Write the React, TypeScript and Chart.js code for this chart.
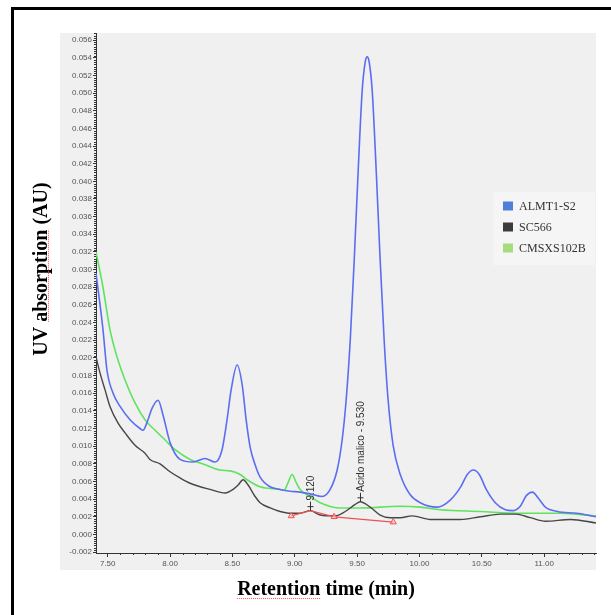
import { useEffect, useRef } from "react";
import { Chart, registerables } from "chart.js";

Chart.register(...registerables);

// ---------- data ----------
const seriesNames = ["ALMT1-S2", "SC566", "CMSXS102B"];
const lineColors = ["#5b6ef2", "#474747", "#5fe35f"];
const legendColors = ["#4f7fd6", "#3c3c3c", "#a7dc7e"];

const almtX = [7.406, 7.462, 7.494, 7.543, 7.599, 7.679, 7.759, 7.783, 7.823, 7.856, 7.904, 7.944, 8.0, 8.08, 8.185, 8.281, 8.361, 8.417, 8.457, 8.49, 8.538, 8.579, 8.61, 8.642, 8.682, 8.722, 8.803, 8.883, 8.963, 9.043, 9.124, 9.22, 9.284, 9.34, 9.38, 9.412, 9.445, 9.477, 9.509, 9.541, 9.565, 9.581, 9.597, 9.621, 9.653, 9.685, 9.717, 9.749, 9.789, 9.846, 9.926, 10.006, 10.143, 10.247, 10.327, 10.384, 10.432, 10.48, 10.536, 10.608, 10.689, 10.745, 10.809, 10.857, 10.906, 10.954, 11.01, 11.107, 11.26, 11.416];
const almtY = [0.0296, 0.0232, 0.0186, 0.016, 0.0145, 0.013, 0.012, 0.0118, 0.013, 0.0143, 0.0152, 0.0135, 0.0104, 0.0085, 0.0082, 0.0086, 0.0082, 0.0096, 0.013, 0.0164, 0.0192, 0.0169, 0.013, 0.0099, 0.0079, 0.0065, 0.0054, 0.0051, 0.0049, 0.0048, 0.0046, 0.0043, 0.0051, 0.0073, 0.0107, 0.0152, 0.022, 0.0311, 0.0413, 0.0503, 0.0535, 0.0541, 0.0535, 0.0503, 0.0413, 0.0311, 0.022, 0.0152, 0.0101, 0.0068, 0.0045, 0.0036, 0.0031, 0.0039, 0.0053, 0.0068, 0.0073, 0.0068, 0.0051, 0.0036, 0.0028, 0.0027, 0.0032, 0.0044, 0.0048, 0.0041, 0.0031, 0.0026, 0.0024, 0.002];

const scX = [7.406, 7.438, 7.478, 7.518, 7.583, 7.639, 7.719, 7.799, 7.839, 7.92, 8.0, 8.08, 8.161, 8.321, 8.442, 8.506, 8.546, 8.586, 8.626, 8.682, 8.722, 8.803, 8.883, 8.963, 9.043, 9.124, 9.204, 9.324, 9.405, 9.485, 9.525, 9.605, 9.685, 9.766, 9.846, 9.942, 10.087, 10.327, 10.488, 10.649, 10.773, 10.89, 11.01, 11.212, 11.416];
const scY = [0.0201, 0.0183, 0.0164, 0.0145, 0.0126, 0.0115, 0.0101, 0.0092, 0.0085, 0.008, 0.0071, 0.0064, 0.0058, 0.0051, 0.0047, 0.0051, 0.0056, 0.0062, 0.0056, 0.0043, 0.0036, 0.003, 0.0026, 0.0024, 0.0024, 0.0027, 0.0022, 0.0021, 0.0026, 0.0034, 0.0037, 0.0031, 0.0022, 0.0019, 0.0019, 0.0021, 0.0017, 0.0017, 0.002, 0.0023, 0.0023, 0.0019, 0.0015, 0.0017, 0.0013];

const cmsX = [7.406, 7.462, 7.518, 7.575, 7.639, 7.719, 7.799, 7.88, 7.96, 8.04, 8.161, 8.281, 8.401, 8.482, 8.562, 8.618, 8.722, 8.883, 8.915, 8.947, 8.979, 9.011, 9.043, 9.124, 9.204, 9.364, 9.525, 9.846, 10.006, 10.167, 10.488, 10.809, 11.13, 11.416];
const cmsY = [0.032, 0.028, 0.0232, 0.0201, 0.0175, 0.0149, 0.013, 0.0118, 0.0107, 0.0096, 0.0085, 0.0079, 0.0073, 0.0072, 0.0068, 0.0062, 0.0054, 0.0051, 0.005, 0.0059, 0.0068, 0.0059, 0.0051, 0.0043, 0.0036, 0.003, 0.003, 0.0032, 0.0031, 0.0028, 0.0026, 0.0024, 0.0024, 0.0021];

const baseX = [8.972, 9.124, 9.316, 9.79];
const baseY = [0.0021, 0.0027, 0.002, 0.0014];
const markX = [8.972, 9.316, 9.79];
const markY = [0.0021, 0.002, 0.0014];

const peakLabels = ["9.120", "Acido malico - 9.530"];
const peakTimes = [9.124, 9.525];
const peakHeights = [0.0027, 0.0037];

const xMin = 7.406, xMax = 11.416, xStep = 0.5, xMinor = 0.1;
const yMin = -0.0021, yMax = 0.0568, yStep = 0.002, yMinor = 0.00025;

const xTitle = "Retention time (min)";
const yTitleParts = ["UV ", "absorption", " (AU)"];

const zip = (xs: number[], ys: number[]) => xs.map((x, i) => ({ x, y: ys[i] }));

const decorPlugin = {
  id: "decor",
  beforeDraw(chart: any) {
    const ctx = chart.ctx;
    ctx.save();
    ctx.fillStyle = "#f0f0f0";
    ctx.fillRect(60, 33, chart.chartArea.right - 60, 570 - 33);
    ctx.fillStyle = "#000";
    ctx.fillRect(11, 7, 611 - 11, 3);
    ctx.fillRect(11, 7, 3, 615 - 7);
    ctx.restore();
  },
  afterDraw(chart: any) {
    const ctx = chart.ctx;
    const xs = chart.scales.x, ys = chart.scales.y;
    const area = chart.chartArea;
    ctx.save();
    // minor ticks
    ctx.strokeStyle = "#333";
    ctx.lineWidth = 1;
    ctx.beginPath();
    for (let k = Math.ceil(xMin / xMinor); k <= Math.floor(xMax / xMinor); k++) {
      if (k % Math.round(xStep / xMinor) === 0) continue;
      const px = Math.round(xs.getPixelForValue(k * xMinor)) + 0.5;
      ctx.moveTo(px, area.bottom);
      ctx.lineTo(px, area.bottom + 2);
    }
    for (let k = Math.ceil(yMin / yMinor); k <= Math.floor(yMax / yMinor); k++) {
      if (k % Math.round(yStep / yMinor) === 0) continue;
      const py = Math.round(ys.getPixelForValue(k * yMinor)) + 0.5;
      ctx.moveTo(area.left - 2, py);
      ctx.lineTo(area.left, py);
    }
    ctx.stroke();

    // peak annotations
    ctx.strokeStyle = "#333";
    ctx.fillStyle = "#333";
    ctx.font = "10px 'Liberation Sans', Arial, sans-serif";
    peakLabels.forEach((lab, i) => {
      const px = Math.round(xs.getPixelForValue(peakTimes[i])) + 0.5;
      const py = ys.getPixelForValue(peakHeights[i]);
      ctx.beginPath();
      ctx.moveTo(px, py);
      ctx.lineTo(px, py - 9);
      ctx.moveTo(px - 3, py - 4);
      ctx.lineTo(px + 3, py - 4);
      ctx.stroke();
      ctx.save();
      ctx.translate(px + 1, py - 10);
      ctx.rotate(-Math.PI / 2);
      ctx.textAlign = "left";
      ctx.textBaseline = "middle";
      ctx.fillText(lab, 0, 0);
      ctx.restore();
    });

    // legend
    ctx.fillStyle = "#f5f5f5";
    ctx.fillRect(493, 192, 102, 73);
    ctx.font = "12px 'Liberation Serif', 'Times New Roman', serif";
    ctx.textBaseline = "middle";
    ctx.textAlign = "left";
    seriesNames.forEach((name, i) => {
      const cy = 206 + i * 21;
      ctx.fillStyle = legendColors[i];
      ctx.fillRect(503, cy - 4.5, 10, 9);
      ctx.fillStyle = "#333";
      ctx.fillText(name, 519, cy + 0.5);
    });

    // axis titles
    ctx.fillStyle = "#000";
    ctx.font = "bold 20px 'Liberation Serif', 'Times New Roman', serif";
    ctx.textAlign = "center";
    ctx.textBaseline = "alphabetic";
    ctx.fillText(xTitle, 326, 595);
    const retW = ctx.measureText("Retention").width;
    const fullW = ctx.measureText(xTitle).width;
    ctx.strokeStyle = "#ff5555";
    ctx.setLineDash([1, 1]);
    ctx.beginPath();
    ctx.moveTo(326 - fullW / 2, 598.5);
    ctx.lineTo(326 - fullW / 2 + retW, 598.5);
    ctx.stroke();
    ctx.setLineDash([]);

    ctx.save();
    ctx.translate(47, 269);
    ctx.rotate(-Math.PI / 2);
    const yt = yTitleParts.join("");
    const ytW = ctx.measureText(yt).width;
    ctx.textAlign = "left";
    ctx.fillText(yt, -ytW / 2, 0);
    const w0 = ctx.measureText(yTitleParts[0]).width;
    const w1 = ctx.measureText(yTitleParts[1]).width;
    ctx.setLineDash([1, 1]);
    ctx.beginPath();
    ctx.moveTo(-ytW / 2 + w0, 1.5);
    ctx.lineTo(-ytW / 2 + w0 + w1, 1.5);
    ctx.stroke();
    ctx.restore();
    ctx.restore();
  },
};

export default function App() {
  const ref = useRef<HTMLCanvasElement | null>(null);
  useEffect(() => {
    if (!ref.current) return;
    const chart = new Chart(ref.current, {
      type: "line",
      data: {
        datasets: [
          { label: seriesNames[0], data: zip(almtX, almtY), borderColor: lineColors[0], borderWidth: 1.6, pointRadius: 0, cubicInterpolationMode: "monotone", fill: false, order: 3 },
          { label: seriesNames[2], data: zip(cmsX, cmsY), borderColor: lineColors[2], borderWidth: 1.6, pointRadius: 0, cubicInterpolationMode: "monotone", fill: false, order: 4 },
          { label: seriesNames[1], data: zip(scX, scY), borderColor: lineColors[1], borderWidth: 1.4, pointRadius: 0, cubicInterpolationMode: "monotone", fill: false, order: 2 },
          { label: "baseline", data: zip(baseX, baseY), borderColor: "#f05050", borderWidth: 1.2, pointRadius: 0, tension: 0, fill: false, order: 1 },
          { label: "marks", data: zip(markX, markY), showLine: false, pointStyle: "triangle", pointRadius: 3.5, pointBorderColor: "#f05050", pointBackgroundColor: "rgba(255,200,200,0.6)", pointBorderWidth: 1, order: 0 },
        ] as any,
      },
      options: {
        animation: false,
        responsive: false,
        devicePixelRatio: 1,
        parsing: false,
        layout: { padding: { left: 60, top: 33, right: 15, bottom: 45 } },
        plugins: { legend: { display: false }, tooltip: { enabled: false } },
        scales: {
          x: {
            type: "linear",
            min: xMin,
            max: xMax,
            ticks: {
              stepSize: xStep,
              includeBounds: false,
              autoSkip: false,
              maxRotation: 0,
              padding: 2,
              color: "#555",
              font: { family: "'Liberation Sans', Arial, sans-serif", size: 8 },
              callback: (v: any) => Number(v).toFixed(2),
            },
            grid: { drawOnChartArea: false, tickLength: 4, tickColor: "#333" },
            border: { color: "#333", width: 1 },
            afterFit: (s: any) => { s.height = 17; },
          },
          y: {
            type: "linear",
            min: yMin,
            max: yMax,
            ticks: {
              stepSize: yStep,
              includeBounds: false,
              autoSkip: false,
              padding: 1,
              color: "#555",
              font: { family: "'Liberation Sans', Arial, sans-serif", size: 8 },
              callback: (v: any) => Number(v).toFixed(3),
            },
            grid: { drawOnChartArea: false, tickLength: 3, tickColor: "#333" },
            border: { color: "#333", width: 1 },
            afterFit: (s: any) => { s.width = 36; },
          },
        },
      } as any,
      plugins: [decorPlugin],
    });
    return () => chart.destroy();
  }, []);
  return (
    <div style={{ position: "absolute", left: 0, top: 0, width: 611, height: 615, background: "#fff" }}>
      <canvas ref={ref} width={611} height={615} style={{ display: "block", width: 611, height: 615 }} />
    </div>
  );
}
